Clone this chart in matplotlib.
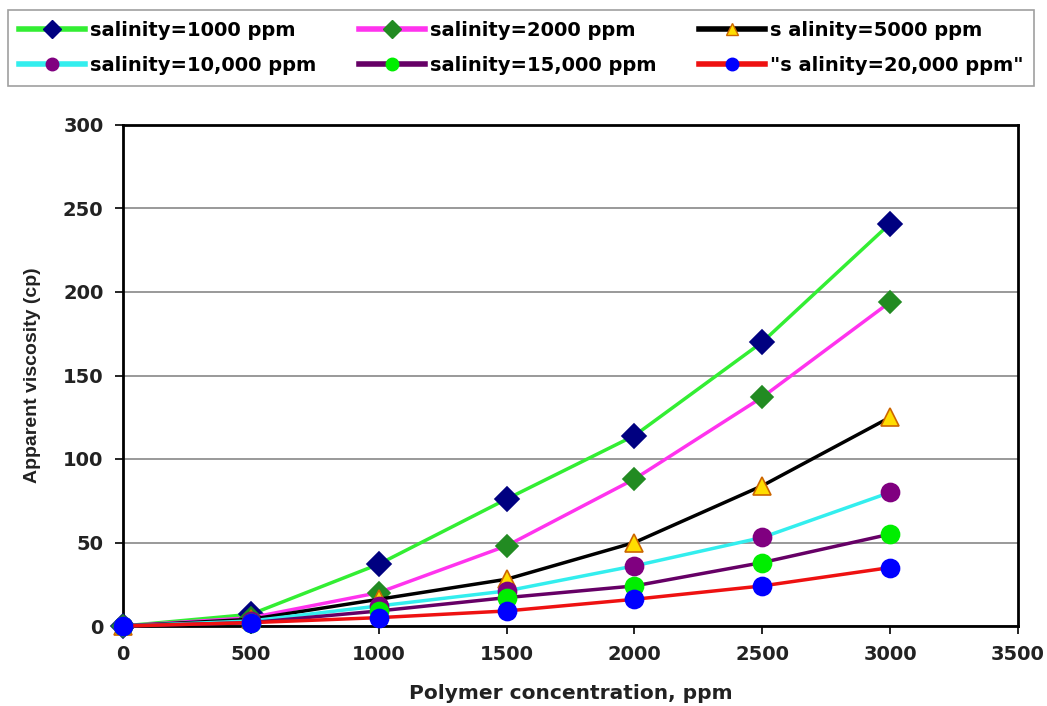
import matplotlib
matplotlib.use("Agg")
import matplotlib.pyplot as plt

plt.rcParams['font.family'] = ['DejaVu Sans']

conc = [0, 500, 1000, 1500, 2000, 2500, 3000]
labels = ["salinity=1000 ppm", "salinity=2000 ppm", "s alinity=5000 ppm",
          "salinity=10,000 ppm", "salinity=15,000 ppm", "\"s alinity=20,000 ppm\""]
visc_1000 = [0, 7, 37, 76, 114, 170, 241]
visc_2000 = [0, 5, 20, 48, 88, 137, 194]
visc_5000 = [0, 4, 16, 28, 50, 84, 125]
visc_10000 = [0, 3, 12, 21, 36, 53, 80]
visc_15000 = [0, 2, 9, 17, 24, 38, 55]
visc_20000 = [0, 2, 5, 9, 16, 24, 35]

series = [visc_1000, visc_2000, visc_5000, visc_10000, visc_15000, visc_20000]
line_colors = ['#33ee33', '#ff33ee', '#000000', '#33eeee', '#660066', '#ee1111']
marker_face = ['#000080', '#228b22', '#ffdd00', '#800080', '#00ee00', '#0000ff']
marker_edge = ['#000080', '#228b22', '#cc6600', '#800080', '#00ee00', '#0000ff']
markers = ['D', 'D', '^', 'o', 'o', 'o']
msizes = [12, 11, 13, 13, 13, 13]

fig = plt.figure(figsize=(10.47, 7.06), dpi=100)
ax = fig.add_axes([123/1047, 1 - 626/706, (1018-123)/1047, (626-125)/706])

for y, lc, mf, me, mk, ms, lab in zip(series, line_colors, marker_face, marker_edge, markers, msizes, labels):
    ax.plot(conc, y, color=lc, lw=2.5, marker=mk, markersize=ms,
            markerfacecolor=mf, markeredgecolor=me, markeredgewidth=1.2,
            label=lab, clip_on=False, zorder=3)

ax.set_xlim(0, 3500)
ax.set_ylim(0, 300)
ax.set_xticks(range(0, 3501, 500))
ax.set_yticks(range(0, 301, 50))
ax.yaxis.grid(True, color='#888888', lw=1.2)
ax.set_axisbelow(True)
for s in ax.spines.values():
    s.set_linewidth(2)
    s.set_color('black')
ax.tick_params(axis='both', direction='out', length=6, width=1.2, labelsize=14, pad=8)
for t in ax.get_xticklabels() + ax.get_yticklabels():
    t.set_fontweight('bold')
    t.set_color('#222222')
ax.set_xlabel("Polymer concentration, ppm", fontsize=14.5, fontweight='bold', labelpad=14, color='#222222')
ax.set_ylabel("Apparent viscosity (cp)", fontsize=14, fontweight='bold', labelpad=16,
              color='#222222', family='Liberation Sans')

order = [0, 3, 1, 4, 2, 5]
leg_handles = []
for i in order:
    h, = ax.plot([], [], color=line_colors[i], lw=4, marker=markers[i], markersize=9,
                 markerfacecolor=marker_face[i], markeredgecolor=marker_edge[i])
    leg_handles.append(h)
leg = fig.legend(leg_handles, [labels[i] for i in order], ncol=3,
                 loc='upper left', bbox_to_anchor=(8/1047, 1 - 10/706, (1034-8)/1047, 0),
                 mode='expand', frameon=True, fancybox=False, edgecolor='#888888',
                 prop={'weight': 'bold', 'size': 14}, handlelength=3.4, handletextpad=0.25,
                 borderaxespad=0, labelspacing=0.85, borderpad=0.55)
leg.get_frame().set_linewidth(1.2)

fig.savefig("out.png", dpi=100)
